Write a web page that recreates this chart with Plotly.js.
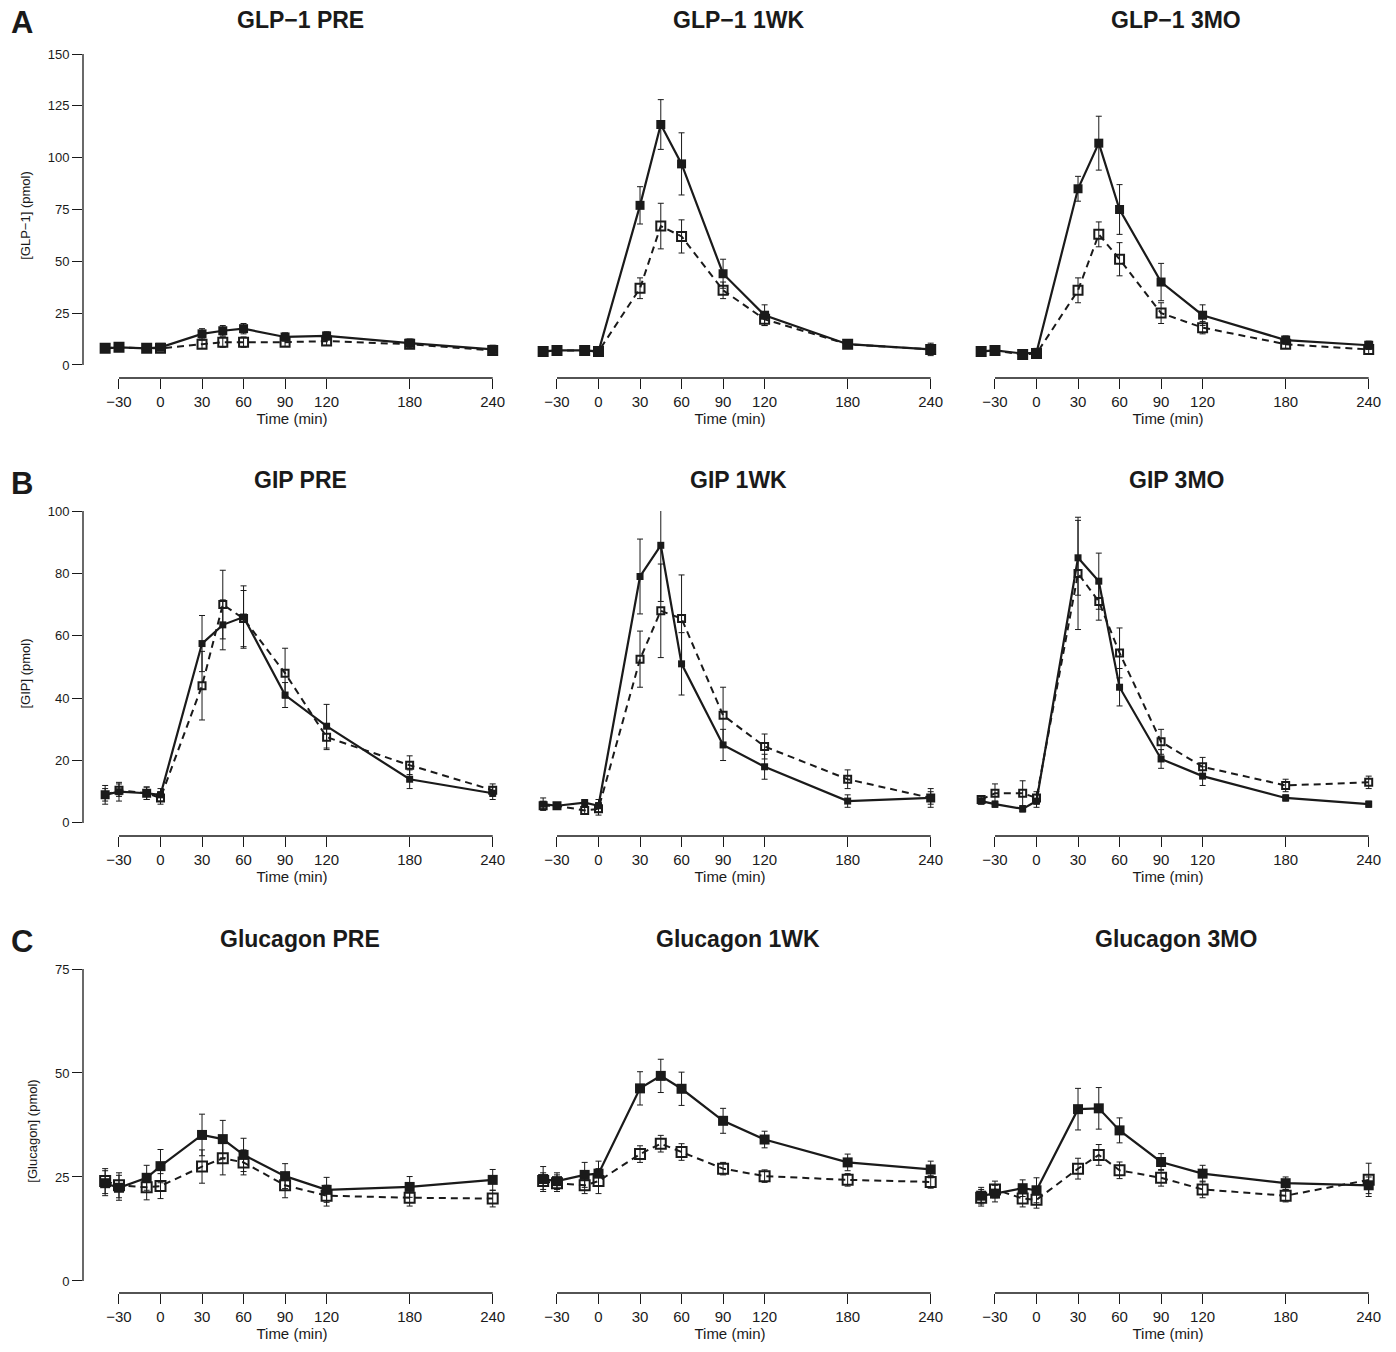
<!DOCTYPE html>
<html>
<head>
<meta charset="utf-8">
<script src="https://cdn.plot.ly/plotly-3.0.1.min.js"></script>
</head>
<body style="margin:0">
<div id="myDiv" style="width:1396px;height:1352px"></div>
<script>
// sampling times (min)
var times = [-40, -30, -10, 0, 30, 45, 60, 90, 120, 180, 240];
var xTicks = [-30, 0, 30, 60, 90, 120, 180, 240];

var glpTicks = [0, 25, 50, 75, 100, 125, 150];
var gipTicks = [0, 20, 40, 60, 80, 100];
var gcgTicks = [0, 25, 50, 75];

// GLP-1
var glpPreSolid = [8, 8.5, 8, 8.5, 15, 16.5, 17.5, 13.5, 14, 10.5, 7.5];
var glpPreSolidErr = [2, 2, 1.5, 1.5, 2.5, 2.5, 2.5, 2, 2, 2, 2];
var glpPreOpen = [8, 8.5, 8, 8, 10, 11, 11, 11, 11.5, 10, 7];
var glpPreOpenErr = [1.5, 1.5, 1, 1, 2, 2.5, 2.5, 2, 2, 2, 2];
var glp1wSolid = [6.5, 7, 7, 6.5, 77, 116, 97, 44, 24, 10, 7.5];
var glp1wSolidErr = [2, 2, 2, 2, 9, 12, 15, 7, 5, 2, 3];
var glp1wOpen = [6.5, 7, 7, 6.5, 37, 67, 62, 36, 22, 10, 7.5];
var glp1wOpenErr = [1, 1, 1, 1, 5, 11, 8, 4, 3, 2, 2];
var glp3mSolid = [6.5, 7, 5.5, 6, 85, 107, 75, 40, 24, 12, 9.5];
var glp3mSolidErr = [2, 1.5, 1.5, 2, 6, 13, 12, 9, 5, 2, 2];
var glp3mOpen = [6.5, 7, 5, 5.5, 36, 63, 51, 25, 18, 10, 7.5];
var glp3mOpenErr = [1, 1, 1, 1, 6, 6, 8, 5, 3, 2, 2];

// GIP
var gipPreSolid = [9, 10, 9.5, 9, 57.5, 63.5, 66, 41, 31, 14, 9.5];
var gipPreSolidErr = [3, 3, 2, 2, 9, 8, 10, 4, 7, 3, 2];
var gipPreOpen = [9, 10.5, 9.5, 8, 44, 70, 65.5, 48, 27.5, 18.5, 10.5];
var gipPreOpenErr = [2, 2, 2, 2, 11, 11, 9, 8, 4, 3, 2];
var gip1wSolid = [6, 5.5, 6.5, 5.5, 79, 89, 51, 25, 18, 7, 8];
var gip1wSolidErr = [2, 1, 1, 2, 12, 18, 10, 5, 4, 2, 3];
var gip1wOpen = [5.5, 5.5, 4, 4.5, 52.5, 68, 65.5, 34.5, 24.5, 14, 8];
var gip1wOpenErr = [1, 1, 1, 2, 9, 15, 14, 9, 4, 3, 2];
var gip3mSolid = [7, 6, 4.5, 7, 85, 77.5, 43.5, 20.5, 15, 8, 6];
var gip3mSolidErr = [1, 1, 1, 2, 12, 9, 6, 3, 3, 1, 1];
var gip3mOpen = [7.5, 9.5, 9.5, 8, 80, 71, 54.5, 26, 18, 12, 13];
var gip3mOpenErr = [1, 3, 4, 2, 18, 6, 8, 4, 3, 2, 2];

// Glucagon
var gcgPreSolid = [23.5, 22.4, 24.8, 27.6, 35.1, 34.1, 30.3, 25.2, 21.9, 22.6, 24.3];
var gcgPreSolidErr = [3, 3, 3, 4, 5, 4.5, 4, 3, 3, 2.5, 2.5];
var gcgPreOpen = [24, 23, 22.5, 22.8, 27.5, 29.5, 28.5, 23, 20.5, 20, 19.8];
var gcgPreOpenErr = [3, 3, 3, 3, 4, 4, 3, 3, 2.5, 2, 2];
var gcg1wSolid = [24.5, 24, 25.5, 25.8, 46.3, 49.3, 46.2, 38.5, 34, 28.5, 26.8];
var gcg1wSolidErr = [3, 2, 3, 3, 4, 4, 4, 3, 2, 2, 2];
var gcg1wOpen = [24, 23.5, 23, 24, 30.5, 33, 31, 27, 25.2, 24.3, 23.8];
var gcg1wOpenErr = [2, 2, 2, 3, 2, 2, 2, 1.5, 1.5, 1.5, 1.5];
var gcg3mSolid = [20.5, 21, 22.3, 21.8, 41.3, 41.5, 36.2, 28.6, 25.8, 23.5, 23];
var gcg3mSolidErr = [2, 2, 2, 3, 5, 5, 3, 2, 2, 1.5, 2];
var gcg3mOpen = [20, 22, 19.8, 19.5, 27, 30.3, 26.6, 24.8, 22, 20.5, 24.3];
var gcg3mOpenErr = [2, 2, 2, 2, 2.5, 2.5, 2, 2, 2, 1.5, 4];

var panels = [
  ['GLP\u22121 PRE', glpPreSolid, glpPreSolidErr, glpPreOpen, glpPreOpenErr],
  ['GLP\u22121 1WK', glp1wSolid, glp1wSolidErr, glp1wOpen, glp1wOpenErr],
  ['GLP\u22121 3MO', glp3mSolid, glp3mSolidErr, glp3mOpen, glp3mOpenErr],
  ['GIP PRE', gipPreSolid, gipPreSolidErr, gipPreOpen, gipPreOpenErr],
  ['GIP 1WK', gip1wSolid, gip1wSolidErr, gip1wOpen, gip1wOpenErr],
  ['GIP 3MO', gip3mSolid, gip3mSolidErr, gip3mOpen, gip3mOpenErr],
  ['Glucagon PRE', gcgPreSolid, gcgPreSolidErr, gcgPreOpen, gcgPreOpenErr],
  ['Glucagon 1WK', gcg1wSolid, gcg1wSolidErr, gcg1wOpen, gcg1wOpenErr],
  ['Glucagon 3MO', gcg3mSolid, gcg3mSolidErr, gcg3mOpen, gcg3mOpenErr]
];

var W = 1396, H = 1352;
var colLeft = [83, 521, 959], colW = 418;
var rows = [
  {top: 53, bottom: 378, range: [-6.3, 150.5], ticks: glpTicks, ytitle: '[GLP\u22121] (pmol)', msize: 9, letter: 'A', ttl: 20},
  {top: 511, bottom: 836, range: [-4.2, 100], ticks: gipTicks, ytitle: '[GIP] (pmol)', msize: 7, letter: 'B', ttl: 480},
  {top: 969, bottom: 1293, range: [-2.9, 75], ticks: gcgTicks, ytitle: '[Glucagon] (pmol)', msize: 10, letter: 'C', ttl: 939}
];
var ink = '#1a1a1a';
var font = 'Liberation Sans, Arial, sans-serif';

var data = [];
var layout = {
  width: W, height: H, showlegend: false,
  margin: {l: 0, r: 0, t: 0, b: 0},
  paper_bgcolor: 'white', plot_bgcolor: 'white',
  font: {family: font, color: ink, size: 14},
  annotations: [], shapes: []
};

panels.forEach(function (p, i) {
  var r = Math.floor(i / 3), c = i % 3, row = rows[r];
  var n = i + 1, xa = 'x' + n, ya = 'y' + n;
  var xk = n === 1 ? 'xaxis' : 'xaxis' + n, yk = n === 1 ? 'yaxis' : 'yaxis' + n;
  layout[xk] = {
    domain: [colLeft[c] / W, (colLeft[c] + colW) / W], anchor: ya,
    range: [-56, 246], tickvals: xTicks, ticktext: xTicks.map(function (t) { return t < 0 ? '\u2212' + (-t) : String(t); }),
    ticks: 'outside', ticklen: 10, tickcolor: ink, showgrid: false, zeroline: false, showline: false,
    tickfont: {size: 15}, title: {text: 'Time (min)', font: {size: 15}, standoff: 4}
  };
  layout[yk] = {
    domain: [1 - row.bottom / H, 1 - row.top / H], anchor: xa,
    range: row.range, tickvals: row.ticks, showgrid: false, zeroline: false, showline: false,
    ticks: c === 0 ? 'outside' : '', ticklen: 10, tickcolor: ink, showticklabels: c === 0,
    tickfont: {size: 13},
    title: c === 0 ? {text: row.ytitle, font: {size: 13}, standoff: 14} : {text: ''}
  };
  // R-style axis lines spanning first..last tick
  layout.shapes.push({type: 'line', xref: xa, yref: ya + ' domain', x0: xTicks[0], x1: xTicks[xTicks.length - 1], y0: 0, y1: 0, line: {color: ink, width: 1.3}});
  if (c === 0) {
    layout.shapes.push({type: 'line', xref: xa + ' domain', yref: ya, x0: 0, x1: 0, y0: row.ticks[0], y1: row.ticks[row.ticks.length - 1], line: {color: ink, width: 1.3}});
  }
  layout.annotations.push({text: '<b>' + p[0] + '</b>', xref: 'paper', yref: 'paper', x: (colLeft[c] + 217) / W, y: 1 - row.ttl / H, xanchor: 'center', yanchor: 'middle', showarrow: false, font: {size: 23}});
  if (c === 0) {
    layout.annotations.push({text: '<b>' + row.letter + '</b>', xref: 'paper', yref: 'paper', x: 22 / W, y: 1 - (row.ttl + 3) / H, xanchor: 'center', yanchor: 'middle', showarrow: false, font: {size: 31}});
  }
  data.push({
    x: times, y: p[3], xaxis: xa, yaxis: ya, mode: 'lines+markers', type: 'scatter',
    line: {color: ink, width: 2, dash: '7px,5px'},
    marker: {symbol: 'square-open', size: row.msize, color: ink, line: {width: 2, color: ink}},
    error_y: {type: 'data', array: p[4], color: ink, thickness: 1, width: 3}
  });
  data.push({
    x: times, y: p[1], xaxis: xa, yaxis: ya, mode: 'lines+markers', type: 'scatter',
    line: {color: ink, width: 2.2},
    marker: {symbol: 'square', size: row.msize, color: ink},
    error_y: {type: 'data', array: p[2], color: ink, thickness: 1, width: 3}
  });
});

Plotly.newPlot('myDiv', data, layout, {staticPlot: true});
</script>
</body>
</html>
